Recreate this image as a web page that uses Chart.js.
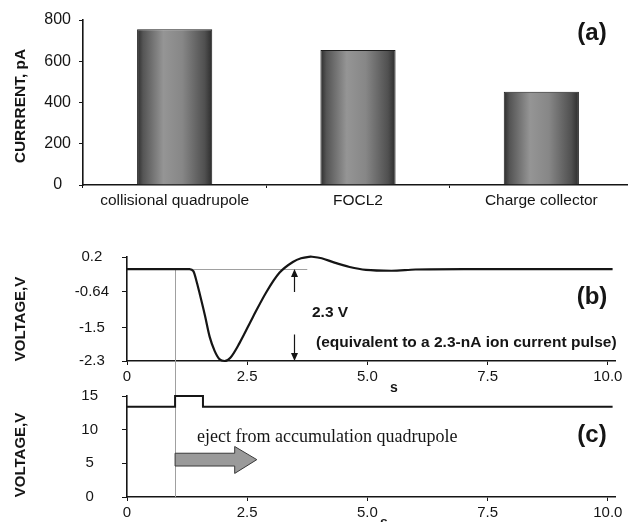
<!DOCTYPE html>
<html>
<head>
<meta charset="utf-8">
<script src="https://cdn.jsdelivr.net/npm/chart.js@4.4.1/dist/chart.umd.min.js"></script>
<style>
  html, body { margin: 0; padding: 0; background: #fff; overflow: hidden; }
  #fig { position: relative; width: 628px; height: 522px; overflow: hidden; }
  .panel { position: absolute; left: 0; }
</style>
</head>
<body>
<div id="fig">
  <div class="panel" style="top:0;width:640px;height:215px"><canvas id="chartA"></canvas></div>
  <div class="panel" style="top:215px;width:628px;height:185px"><canvas id="chartB"></canvas></div>
  <div class="panel" style="top:380px;width:628px;height:150px"><canvas id="chartC"></canvas></div>
</div>
<script>
// ---- data ----
// (a) ion current measured at each stage
const sources = ['collisional quadrupole', 'FOCL2', 'Charge collector'];
const currentPA = [755, 655, 452];

// (b) charge collector signal
const timeB = [0, 0.5, 1.0, 1.3, 1.38, 1.45, 1.52, 1.62, 1.72, 1.82, 1.92, 2.03, 2.15, 2.34,
               2.62, 2.9, 3.17, 3.45, 3.62, 3.82, 4.05, 4.3, 4.63, 4.97, 5.5, 6.0, 7.0, 8.0, 9.0, 10.1];
const voltageB = [-0.09, -0.09, -0.09, -0.09, -0.14, -0.4, -0.72, -1.2, -1.72, -2.05, -2.25, -2.3, -2.22, -1.87,
                  -1.24, -0.64, -0.18, 0.08, 0.17, 0.21, 0.17, 0.07, -0.04, -0.11, -0.13, -0.1, -0.09, -0.09, -0.09, -0.09];
const voltTicksB = [0.2, -0.64, -1.5, -2.3];

// (c) eject pulse on the accumulation quadrupole
const timeC = [0, 1.0, 1.58, 10.1];
const voltageC = [13.4, 15, 13.4, 13.4];
const voltTicksC = [0, 5, 10, 15];

const timeTicks = [0, 2.5, 5, 7.5, 10];
const baselineB = -0.09;   // quiet level of trace (b)
const ejectTime = 1.0;     // start of the eject pulse

// ---- style ----
const SANS = '"Liberation Sans", Arial, sans-serif';
const SERIF = '"Liberation Serif", "Times New Roman", serif';
const INK = '#151515';
const GUIDE = '#a0a0a0';
const BAR_PCT = 0.41;

Chart.defaults.font.family = SANS;
Chart.defaults.color = INK;
Chart.defaults.animation = false;
Chart.defaults.plugins.legend.display = false;
Chart.defaults.plugins.tooltip.enabled = false;

// free text drawn on top of a chart (axis titles, panel tags, notes)
function textLayer(items) {
  return {
    id: 'textLayer',
    afterDraw(chart) {
      const ctx = chart.ctx;
      items.forEach(it => {
        ctx.save();
        ctx.font = it.font;
        ctx.fillStyle = it.color || INK;
        ctx.textAlign = it.align || 'center';
        ctx.textBaseline = it.baseline || 'middle';
        ctx.translate(it.x, it.y);
        if (it.rotate) ctx.rotate(it.rotate);
        ctx.fillText(it.text, 0, 0);
        ctx.restore();
      });
    }
  };
}

// cylinder-like shading across each bar
function barShade(c) {
  const chart = c.chart;
  const xs = chart.scales.x;
  if (!xs || c.dataIndex == null) return '#777';
  const cx = xs.getPixelForValue(c.dataIndex);
  const half = xs.width / sources.length * BAR_PCT / 2;
  if (!Number.isFinite(cx) || !Number.isFinite(half) || half <= 0) return '#777';
  const g = chart.ctx.createLinearGradient(cx - half, 0, cx + half, 0);
  g.addColorStop(0, '#2c2c2c');
  g.addColorStop(0.08, '#555');
  g.addColorStop(0.35, '#959595');
  g.addColorStop(0.6, '#878787');
  g.addColorStop(0.9, '#505050');
  g.addColorStop(1, '#2c2c2c');
  return g;
}

function axisStyle(tickLen) {
  return {
    grid: { display: true, drawOnChartArea: false, drawTicks: true, tickLength: tickLen, color: INK, lineWidth: 1 },
    border: { display: true, color: INK, width: 1.6 }
  };
}

function timeAxis(height) {
  return Object.assign(axisStyle(4), {
    type: 'linear', min: 0, max: 10.15,
    afterBuildTicks: s => { s.ticks = timeTicks.map(v => ({ value: v })); },
    afterFit: s => { s.height = height; },
    ticks: { font: { size: 15 }, padding: 3, maxRotation: 0,
             callback: v => v === 0 ? '0' : v.toFixed(1) }
  });
}

// fixed-width voltage axis; labels sit well away from the axis line
function voltAxis(lo, hi, values, pad) {
  return Object.assign(axisStyle(5), {
    min: lo, max: hi,
    afterBuildTicks: s => { s.ticks = values.map(v => ({ value: v })); },
    afterFit: s => { s.width = 127; s.paddingTop = 0; s.paddingBottom = 0; },
    ticks: { font: { size: 15 }, padding: pad, crossAlign: 'center', callback: v => String(v) }
  });
}

// ---- (a) bar chart ----
new Chart(document.getElementById('chartA'), {
  type: 'bar',
  data: {
    labels: sources,
    datasets: [{
      data: currentPA,
      backgroundColor: barShade,
      borderColor: '#1e1e1e',
      borderWidth: 1,
      borderSkipped: 'bottom',
      barPercentage: BAR_PCT,
      categoryPercentage: 1
    }]
  },
  options: {
    responsive: true,
    maintainAspectRatio: false,
    layout: { padding: { top: 20, right: 7, left: 0, bottom: 0 } },
    scales: {
      x: Object.assign(axisStyle(3), {
        grid: { display: true, offset: true, drawOnChartArea: false, tickLength: 3, color: INK },
        afterFit: s => { s.height = 30; },
        ticks: { font: { size: 15.5 }, padding: 3, maxRotation: 0 }
      }),
      y: Object.assign(axisStyle(4), {
        min: 0, max: 800,
        afterFit: s => { s.width = 83; },
        ticks: { stepSize: 100, font: { size: 16 }, padding: 8, crossAlign: 'center',
                 callback: v => v % 200 === 0 ? String(v) : '' }
      })
    }
  },
  plugins: [textLayer([
    { text: 'CURRRENT, pA', x: 21, y: 106, rotate: -Math.PI / 2, font: 'bold 15.5px ' + SANS },
    { text: '(a)', x: 592, y: 33, font: 'bold 24px ' + SANS }
  ])]
});

// ---- (b) collector signal ----
const guidesB = {
  id: 'guidesB',
  beforeDatasetsDraw(chart) {
    const { ctx, scales: { x, y } } = chart;
    const yb = Math.round(y.getPixelForValue(baselineB)) + 0.5;
    const xv = Math.round(x.getPixelForValue(ejectTime)) + 0.5;
    ctx.save();
    ctx.strokeStyle = GUIDE;
    ctx.lineWidth = 1;
    ctx.beginPath();
    ctx.moveTo(x.getPixelForValue(0), yb);
    ctx.lineTo(x.getPixelForValue(3.75), yb);
    ctx.moveTo(xv, yb);
    ctx.lineTo(xv, chart.height);
    ctx.stroke();
    ctx.restore();
  },
  afterDraw(chart) {
    // double-headed arrow marking the 2.3 V amplitude
    const { ctx, scales: { x, y } } = chart;
    const ax = Math.round(x.getPixelForValue(3.48)) + 0.5;
    const top = y.getPixelForValue(baselineB);
    const bot = y.getPixelForValue(-2.3);
    const gapTop = y.getPixelForValue(-0.64);
    const gapBot = y.getPixelForValue(-1.66);
    ctx.save();
    ctx.strokeStyle = INK;
    ctx.fillStyle = INK;
    ctx.lineWidth = 1.2;
    ctx.beginPath();
    ctx.moveTo(ax, top + 6); ctx.lineTo(ax, gapTop);
    ctx.moveTo(ax, gapBot); ctx.lineTo(ax, bot - 6);
    ctx.stroke();
    ctx.beginPath();
    ctx.moveTo(ax, top); ctx.lineTo(ax - 3.5, top + 8); ctx.lineTo(ax + 3.5, top + 8); ctx.closePath();
    ctx.moveTo(ax, bot); ctx.lineTo(ax - 3.5, bot - 8); ctx.lineTo(ax + 3.5, bot - 8); ctx.closePath();
    ctx.fill();
    ctx.restore();
  }
};

new Chart(document.getElementById('chartB'), {
  type: 'line',
  data: {
    datasets: [{
      data: timeB.map((t, i) => ({ x: t, y: voltageB[i] })),
      borderColor: INK,
      borderWidth: 2.2,
      pointRadius: 0,
      cubicInterpolationMode: 'monotone',
      clip: false
    }]
  },
  options: {
    responsive: true,
    maintainAspectRatio: false,
    layout: { padding: { top: 42, right: 13, left: 0, bottom: 15 } },
    scales: {
      x: timeAxis(24),
      y: voltAxis(-2.3, 0.2, voltTicksB, 13)
    }
  },
  plugins: [guidesB, textLayer([
    { text: 'VOLTAGE,V', x: 21, y: 104, rotate: -Math.PI / 2, font: 'bold 15px ' + SANS },
    { text: '(b)', x: 592, y: 82, font: 'bold 24px ' + SANS },
    { text: '2.3 V', x: 312, y: 98, align: 'left', font: 'bold 15.5px ' + SANS },
    { text: '(equivalent to a 2.3-nA ion current pulse)', x: 316, y: 128, align: 'left', font: 'bold 15.5px ' + SANS },
    { text: 's', x: 394, y: 173, font: 'bold 14px ' + SANS }
  ])]
});

// ---- (c) eject pulse ----
const guidesC = {
  id: 'guidesC',
  beforeDatasetsDraw(chart) {
    const { ctx, chartArea, scales: { x } } = chart;
    const xv = Math.round(x.getPixelForValue(ejectTime)) + 0.5;
    ctx.save();
    ctx.strokeStyle = GUIDE;
    ctx.lineWidth = 1;
    ctx.beginPath();
    ctx.moveTo(xv, 0);
    ctx.lineTo(xv, chartArea.bottom);
    ctx.stroke();
    ctx.restore();
  },
  afterDatasetsDraw(chart) {
    // block arrow showing the ion packet leaving the trap
    const { ctx, scales: { x, y } } = chart;
    const x0 = x.getPixelForValue(1.0), xh = x.getPixelForValue(2.24), xt = x.getPixelForValue(2.7);
    const s1 = y.getPixelForValue(6.5), s2 = y.getPixelForValue(4.6);
    const h1 = y.getPixelForValue(7.5), h2 = y.getPixelForValue(3.5);
    const ym = (s1 + s2) / 2;
    ctx.save();
    ctx.beginPath();
    ctx.moveTo(x0, s1); ctx.lineTo(xh, s1); ctx.lineTo(xh, h1); ctx.lineTo(xt, ym);
    ctx.lineTo(xh, h2); ctx.lineTo(xh, s2); ctx.lineTo(x0, s2); ctx.closePath();
    ctx.fillStyle = '#9a9a9a';
    ctx.fill();
    ctx.strokeStyle = '#3a3a3a';
    ctx.lineWidth = 1;
    ctx.stroke();
    ctx.restore();
  }
};

new Chart(document.getElementById('chartC'), {
  type: 'line',
  data: {
    datasets: [{
      data: timeC.map((t, i) => ({ x: t, y: voltageC[i] })),
      borderColor: INK,
      borderWidth: 2,
      pointRadius: 0,
      stepped: true,
      clip: false
    }]
  },
  options: {
    responsive: true,
    maintainAspectRatio: false,
    layout: { padding: { top: 16, right: 13, left: 0, bottom: 8 } },
    scales: {
      x: timeAxis(25),
      y: voltAxis(0, 15, voltTicksC, 24)
    }
  },
  plugins: [guidesC, textLayer([
    { text: 'VOLTAGE,V', x: 21, y: 75, rotate: -Math.PI / 2, font: 'bold 15px ' + SANS },
    { text: '(c)', x: 592, y: 55, font: 'bold 24px ' + SANS },
    { text: 'eject from accumulation quadrupole', x: 197, y: 62, align: 'left', baseline: 'alphabetic', font: '18px ' + SERIF },
    { text: 's', x: 384, y: 143, font: 'bold 14px ' + SANS }
  ])]
});
</script>
</body>
</html>
